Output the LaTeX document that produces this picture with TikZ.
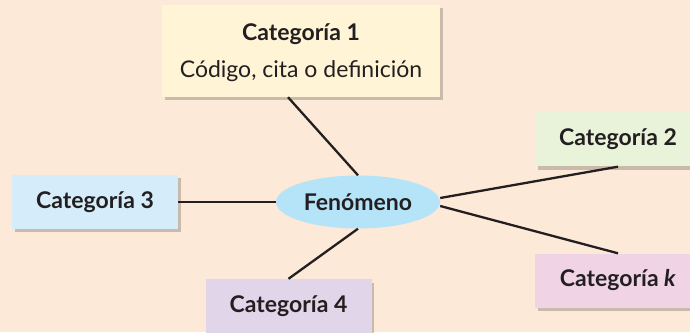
\documentclass[tikz,border=0pt]{standalone}
\usepackage{fontspec}
\setmainfont{Lato}
\usetikzlibrary{shadows,calc,shapes.geometric}
\definecolor{bgc}{HTML}{FDE9D8}
\definecolor{c1c}{HTML}{FFF4D6}
\definecolor{c3c}{HTML}{D5ECFA}
\definecolor{fenc}{HTML}{B5E3F8}
\definecolor{c2c}{HTML}{E9F3D9}
\definecolor{ckc}{HTML}{F0D4E6}
\definecolor{c4c}{HTML}{E1D5EA}
\definecolor{ink}{HTML}{231F20}
\begin{document}
\begin{tikzpicture}[x=1pt,y=1pt,
  catbox/.style={rectangle, inner sep=0pt, minimum width=166pt, minimum height=54pt,
    font=\fontsize{23}{27}\selectfont\bfseries, text=ink,
    drop shadow={shadow xshift=2.5pt, shadow yshift=-3.5pt, opacity=0.2, fill=black}},
  lbl/.style={inner sep=0pt, text=ink, font=\fontsize{23}{27}\selectfont},
  link/.style={draw=ink, line width=2.3pt}]
\fill[bgc] (0,0) rectangle (690,332);
\useasboundingbox (0,0) rectangle (690,332);
\node[catbox, fill=c1c, minimum width=278pt, minimum height=92pt] (c1) at (301,281) {};
\node[lbl, font=\fontsize{23}{27}\selectfont\bfseries] (c1t) at ($(c1.center)+(0,17)$) {Categoría 1};
\node[lbl] (c1d) at ($(c1.center)+(0,-20)$) {Código, cita o definición};
\node[catbox, fill=c3c] (c3) at (95,130) {Categoría 3};
\node[catbox, fill=c2c] (c2) at (618,192.5) {Categoría 2};
\node[catbox, fill=ckc] (ck) at (618,51.5) {Categoría \textit{k}};
\node[catbox, fill=c4c] (c4) at (288.5,26) {Categoría 4};
\node[ellipse, fill=fenc, inner sep=0pt, minimum width=164pt, minimum height=53pt,
  font=\fontsize{23}{27}\selectfont\bfseries, text=ink] (fen) at (358,130) {Fenómeno};
\draw[link] ($(c1.south)+(-13,0)$) -- (fen.north);
\draw[link] (c3.east) -- (fen.west);
\draw[link] (c4.north) -- (fen.south);
\draw[link] ($(fen.east)+(0,4)$) -- (c2.south);
\draw[link] ($(fen.east)+(0,-4)$) -- (ck.north);
\end{tikzpicture}
\end{document}
